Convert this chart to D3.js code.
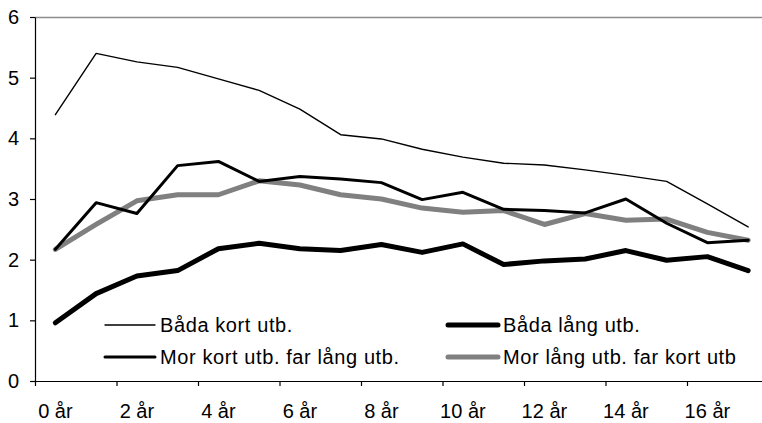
<!DOCTYPE html>
<html>
<head>
<meta charset="utf-8">
<script src="https://cdn.jsdelivr.net/npm/d3@7"></script>
<style>
  body { margin: 0; background: #fff; overflow: hidden; }
  svg { display: block; font-family: "Liberation Sans", Arial, sans-serif; }
</style>
</head>
<body>
<div id="graph"></div>
<script>
//Data
const ages = d3.range(0, 18);
const ageLabels = ages.map(d => d + " år");

const badaKort = [4.39, 5.40, 5.26, 5.17, 4.98, 4.79, 4.48, 4.06, 3.99, 3.82, 3.69, 3.59, 3.56, 3.48, 3.39, 3.29, 2.92, 2.54];
const badaLang = [0.96, 1.44, 1.73, 1.82, 2.18, 2.27, 2.18, 2.15, 2.25, 2.12, 2.26, 1.92, 1.98, 2.01, 2.15, 1.99, 2.05, 1.82];
const morKortFarLang = [2.17, 2.94, 2.76, 3.55, 3.62, 3.29, 3.37, 3.33, 3.27, 2.99, 3.11, 2.83, 2.81, 2.77, 3.00, 2.60, 2.28, 2.32];
const morLangFarKort = [2.17, 2.58, 2.97, 3.07, 3.07, 3.30, 3.23, 3.07, 3.00, 2.85, 2.78, 2.81, 2.58, 2.76, 2.65, 2.67, 2.45, 2.32];

const seriesNames = ["Båda kort utb.", "Båda lång utb.", "Mor kort utb. far lång utb.", "Mor lång utb. far kort utb"];
const yTicks = [0, 1, 2, 3, 4, 5, 6];

//Display specifications
const W = 762, H = 423;
const margin = {left: 35, top: 17, bottom: 381};
const bandW = 40.75;
const fontSize = "20px";

const series = [
  {name: seriesNames[0], values: badaKort, color: "#000", width: 1.4},
  {name: seriesNames[1], values: badaLang, color: "#000", width: 5},
  {name: seriesNames[2], values: morKortFarLang, color: "#000", width: 3},
  {name: seriesNames[3], values: morLangFarKort, color: "#808080", width: 5}
];

const svg = d3.select("#graph").append("svg")
  .attr("width", W)
  .attr("height", H);

//Scales
const x = d3.scaleBand()
  .domain(ages)
  .range([margin.left, margin.left + bandW * ages.length]);

const xb = d3.scaleLinear()
  .domain([0, ages.length])
  .range([margin.left, margin.left + bandW * ages.length]);

const y = d3.scaleLinear()
  .domain([0, 6])
  .range([margin.bottom, margin.top]);

//Top frame line
svg.append("line")
  .attr("x1", margin.left).attr("x2", W)
  .attr("y1", margin.top + 0.5).attr("y2", margin.top + 0.5)
  .attr("stroke", "#8c8c8c")
  .attr("stroke-width", 1.5);

//Y axis
svg.append("g")
  .attr("transform", "translate(" + margin.left + ",0)")
  .call(d3.axisLeft(y).tickValues(yTicks).tickSize(5).tickSizeOuter(0).tickPadding(11).tickFormat(d3.format("d")));

//X axis ticks at band boundaries
svg.append("g")
  .attr("transform", "translate(0," + margin.bottom + ")")
  .call(d3.axisBottom(xb).tickValues(d3.range(0, 19, 2)).tickSize(5).tickSizeOuter(0).tickFormat(""));

//X labels under the categories
const xLabels = svg.append("g")
  .attr("transform", "translate(0," + margin.bottom + ")")
  .call(d3.axisBottom(x).tickValues(ages.filter(d => d % 2 === 0)).tickSize(0).tickPadding(23).tickFormat(d => ageLabels[d]));
xLabels.select(".domain").remove();

svg.selectAll(".domain, .tick line").attr("stroke", "#000").attr("stroke-width", 1.2);
svg.selectAll(".tick text").attr("fill", "#000").style("font-size", fontSize);

//line function
const line = d3.line()
  .x((d, i) => x(ages[i]) + x.bandwidth() / 2)
  .y(d => y(d));

//Draw series, thin line on top
const drawOrder = [3, 1, 2, 0];
svg.append("g")
  .selectAll("path")
  .data(drawOrder.map(i => series[i]))
  .enter()
  .append("path")
  .attr("fill", "none")
  .attr("stroke", d => d.color)
  .attr("stroke-width", d => d.width)
  .attr("stroke-linejoin", "round")
  .attr("stroke-linecap", "round")
  .attr("d", d => line(d.values));

//Legend
const legendPos = [
  {x: 105, y: 325},
  {x: 448, y: 325},
  {x: 105, y: 357},
  {x: 448, y: 357}
];

const legend = svg.append("g")
  .selectAll("g")
  .data(series)
  .enter()
  .append("g")
  .attr("transform", (d, i) => "translate(" + legendPos[i].x + "," + legendPos[i].y + ")");

legend.append("line")
  .attr("x1", 0).attr("x2", 50)
  .attr("stroke", d => d.color)
  .attr("stroke-width", d => d.width)
  .attr("stroke-linecap", "round");

legend.append("text")
  .attr("x", 55)
  .attr("y", 7)
  .style("font-size", fontSize)
  .style("letter-spacing", "0.6px")
  .text(d => d.name);
</script>
</body>
</html>
